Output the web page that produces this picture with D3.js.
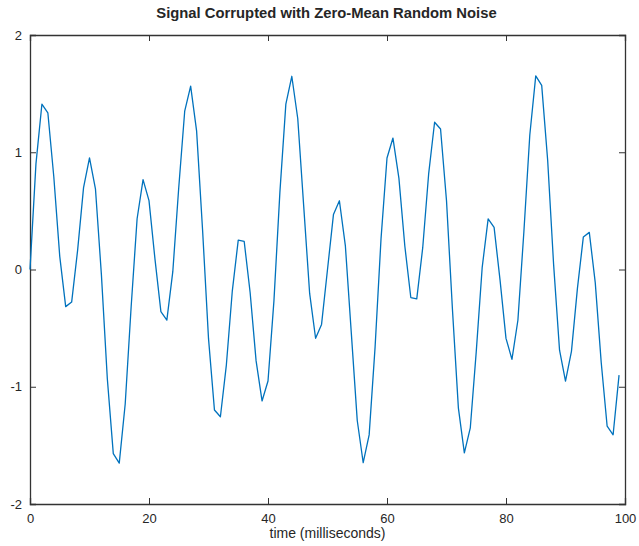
<!DOCTYPE html>
<html>
<head>
<meta charset="utf-8">
<script src="https://cdn.jsdelivr.net/npm/d3@7"></script>
<style>
  body { margin: 0; background: #fff; }
  svg text { font-family: "Liberation Sans", Arial, sans-serif; fill: #262626; }
</style>
</head>
<body>
<svg width="639" height="546"></svg>
<script>
// Sample times (ms) and signal values
const timeMs = d3.range(0, 100);
const signal = [
  0, 0.9008, 1.4095, 1.3368, 0.7910, 0.1122, -0.3166, -0.2780, 0.1628, 0.6981,
  0.9511, 0.6885, -0.0434, -0.9344, -1.5705, -1.6511, -1.1475, -0.3176, 0.4328, 0.7660,
  0.5878, 0.0910, -0.3590, -0.4317, -0.0188, 0.7, 1.3502, 1.5643, 1.1820, 0.3416,
  -0.5878, -1.1986, -1.2558, -0.8150, -0.1839, 0.2511, 0.2391, -0.1982, -0.7796, -1.1211,
  -0.9511, -0.2655, 0.6602, 1.4106, 1.6480, 1.2878, 0.5404, -0.2042, -0.5865, -0.4682,
  0, 0.4682, 0.5865, 0.2042, -0.5404, -1.2878, -1.6480, -1.4106, -0.6602, 0.2655,
  0.9511, 1.1211, 0.7796, 0.1982, -0.2391, -0.2511, 0.1839, 0.8150, 1.2558, 1.1986,
  0.5878, -0.3416, -1.1820, -1.5643, -1.3502, -0.7, 0.0188, 0.4317, 0.3590, -0.0910,
  -0.5878, -0.7660, -0.4328, 0.3176, 1.1475, 1.6511, 1.5705, 0.9344, 0.0434, -0.6885,
  -0.9511, -0.6981, -0.1628, 0.2780, 0.3166, -0.1122, -0.7910, -1.3368, -1.4095, -0.9008
];
const xTicks = [0, 20, 40, 60, 80, 100];
const yTicks = [-2, -1, 0, 1, 2];
const titleText = "Signal Corrupted with Zero-Mean Random Noise";
const xLabelText = "time (milliseconds)";

const svg = d3.select("svg");
const margin = { top: 35, right: 14, bottom: 42, left: 30 };
const width = 639, height = 546;
const w = width - margin.left - margin.right;
const h = height - margin.top - margin.bottom;

const x = d3.scaleLinear().domain([0, 100]).range([0, w]);
const y = d3.scaleLinear().domain([-2, 2]).range([h, 0]);

const g = svg.append("g").attr("transform", `translate(${margin.left},${margin.top})`);

const tickLen = 6;
const fmt = d => String(d); // plain hyphen minus, like the original
// bottom axis with labels
const axB = g.append("g").attr("transform", `translate(0,${h})`)
  .call(d3.axisBottom(x).tickValues(xTicks).tickSize(-tickLen).tickPadding(10).tickFormat(fmt));
// top axis, ticks only
const axT = g.append("g")
  .call(d3.axisTop(x).tickValues(xTicks).tickSize(-tickLen).tickFormat(""));
// left axis with labels
const axL = g.append("g")
  .call(d3.axisLeft(y).tickValues(yTicks).tickSize(-tickLen).tickPadding(8).tickFormat(fmt));
// right axis, ticks only
const axR = g.append("g").attr("transform", `translate(${w},0)`)
  .call(d3.axisRight(y).tickValues(yTicks).tickSize(-tickLen).tickFormat(""));

[axB, axT, axL, axR].forEach(a => {
  a.select(".domain").attr("stroke", "#333").attr("stroke-width", 1.3);
  a.selectAll(".tick line").attr("stroke", "#333");
  a.selectAll(".tick text").attr("font-size", 13).attr("fill", "#262626");
});
// drop end ticks that overlap the box edges
axB.selectAll(".tick line").filter(d => d === 0 || d === 100).remove();
axT.selectAll(".tick line").filter(d => d === 0 || d === 100).remove();
axL.selectAll(".tick line").filter(d => d === -2 || d === 2).remove();
axR.selectAll(".tick line").filter(d => d === -2 || d === 2).remove();

const line = d3.line()
  .x((d, i) => x(timeMs[i]))
  .y(d => y(d));

g.append("path")
  .datum(signal)
  .attr("fill", "none")
  .attr("stroke", "#0072BD")
  .attr("stroke-width", 1.3)
  .attr("stroke-linejoin", "round")
  .attr("d", line);

svg.append("text")
  .attr("x", margin.left + w / 2 - 1)
  .attr("y", 18)
  .attr("text-anchor", "middle")
  .attr("font-size", 14.8)
  .attr("font-weight", "bold")
  .text(titleText);

svg.append("text")
  .attr("x", margin.left + w / 2)
  .attr("y", 538)
  .attr("text-anchor", "middle")
  .attr("font-size", 14)
  .text(xLabelText);
</script>
</body>
</html>
